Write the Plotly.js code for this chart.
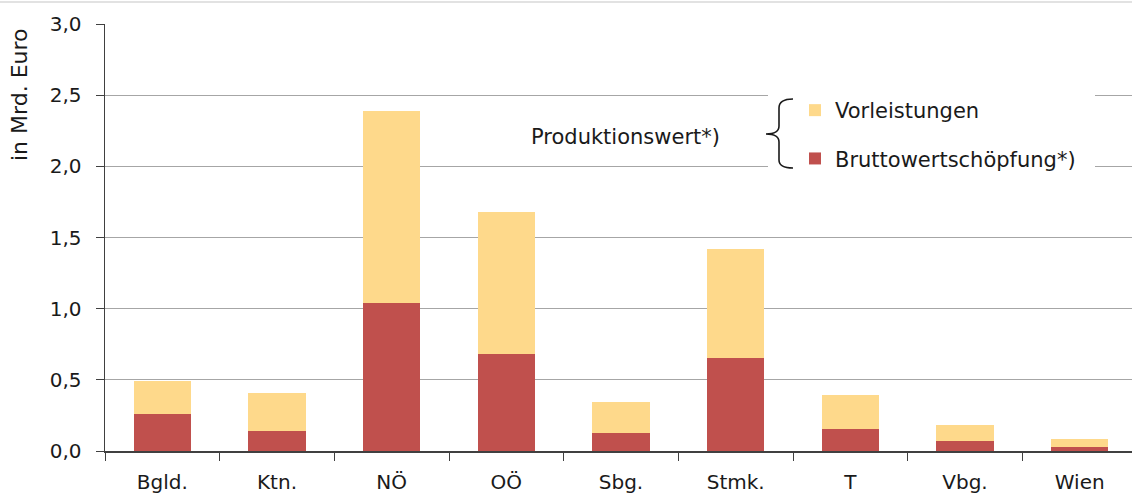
<!DOCTYPE html>
<html>
<head>
<meta charset="utf-8">
<script src="https://cdn.plot.ly/plotly-3.0.1.min.js"></script>
<style>html,body{margin:0;padding:0;background:#fff;}#chart{width:1132px;height:498px;}</style>
</head>
<body>
<div id="chart"></div>
<script>
// Data (in Mrd. Euro)
const regions = ["Bgld.", "Ktn.", "NÖ", "OÖ", "Sbg.", "Stmk.", "T", "Vbg.", "Wien"];
const bruttowertschoepfung = [0.26, 0.143, 1.038, 0.68, 0.13, 0.653, 0.152, 0.068, 0.026];
const vorleistungen = [0.23, 0.262, 1.352, 1.00, 0.212, 0.767, 0.238, 0.112, 0.058];
const yTickValues = [0, 0.5, 1.0, 1.5, 2.0, 2.5, 3.0];

const FONT = "DejaVu Sans";
const W = 1132, H = 498;
const L = 105, R = 0, T = 24, B = 47;
const pw = W - L - R, ph = H - T - B;
const px = x => (x - L) / pw;
const py = y => (H - B - y) / ph;

const traces = [
  {type: "bar", name: "Bruttowertschöpfung*)", x: regions, y: bruttowertschoepfung,
   marker: {color: "#C0504D"}, width: 0.5, legendgroup: "b", legendrank: 2, hoverinfo: "x+y"},
  {type: "bar", name: "Vorleistungen", x: regions, y: vorleistungen,
   marker: {color: "#FED98B"}, width: 0.5, legendgroup: "v", legendrank: 1, hoverinfo: "x+y"}
];

const brace = [
  "M", px(793), py(99),
  "Q", px(779), py(99), px(779), py(108),
  "L", px(779), py(126),
  "Q", px(779), py(134), px(766), py(134),
  "Q", px(779), py(134), px(779), py(142),
  "L", px(779), py(160),
  "Q", px(779), py(168), px(793), py(168)
].join(" ");

const layout = {
  width: W, height: H,
  margin: {l: L, r: R, t: T, b: B},
  paper_bgcolor: "#fff", plot_bgcolor: "#fff",
  separators: ",.",
  barmode: "stack",
  font: {family: FONT, size: 20, color: "#1a1a1a"},
  showlegend: true,
  legend: {
    x: px(795), y: py(90), xanchor: "left", yanchor: "top",
    traceorder: "grouped", tracegroupgap: 18,
    bgcolor: "rgba(0,0,0,0)", font: {family: FONT, size: 21, color: "#1a1a1a"},
    itemclick: false
  },
  xaxis: {
    range: [-0.5, 8.5 - 5 / 114.7],
    showgrid: false, showline: true, linecolor: "#404040", linewidth: 1.5,
    ticks: "outside", tickson: "boundaries", ticklen: 8, tickcolor: "#404040",
    ticklabelstandoff: 12,
    tickfont: {family: FONT, size: 20, color: "#1a1a1a"},
    fixedrange: true
  },
  yaxis: {
    range: [0, 3], tickvals: yTickValues, tickformat: ".1f",
    showgrid: true, gridcolor: "#a6a6a6", gridwidth: 1.3,
    showline: true, linecolor: "#404040", linewidth: 1.5,
    ticks: "outside", ticklen: 8, tickcolor: "#404040",
    ticklabelstandoff: 10,
    tickfont: {family: FONT, size: 20, color: "#1a1a1a"},
    zeroline: false, fixedrange: true
  },
  shapes: [
    {type: "rect", xref: "paper", yref: "paper", x0: px(768), x1: px(1095), y0: py(172), y1: py(90),
     fillcolor: "#fff", line: {width: 0}, layer: "above"},
    {type: "path", xref: "paper", yref: "paper", path: brace, line: {color: "#1a1a1a", width: 1.6}, layer: "above"},
    {type: "line", xref: "paper", yref: "paper", x0: -L / pw, x1: 1, y0: py(2), y1: py(2),
     line: {color: "#d9d9d9", width: 1.5}, layer: "above"}
  ],
  annotations: [
    {text: "Produktionswert*)", xref: "paper", yref: "paper", x: px(722), y: py(137),
     xanchor: "right", yanchor: "middle", showarrow: false, font: {family: FONT, size: 21, color: "#1a1a1a"}},
    {text: "in Mrd. Euro", xref: "paper", yref: "paper", x: px(20), y: py(95),
     xanchor: "center", yanchor: "middle", textangle: -90, showarrow: false,
     font: {family: FONT, size: 22, color: "#1a1a1a"}}
  ]
};

Plotly.newPlot("chart", traces, layout, {displayModeBar: false, staticPlot: true});
</script>
</body>
</html>
